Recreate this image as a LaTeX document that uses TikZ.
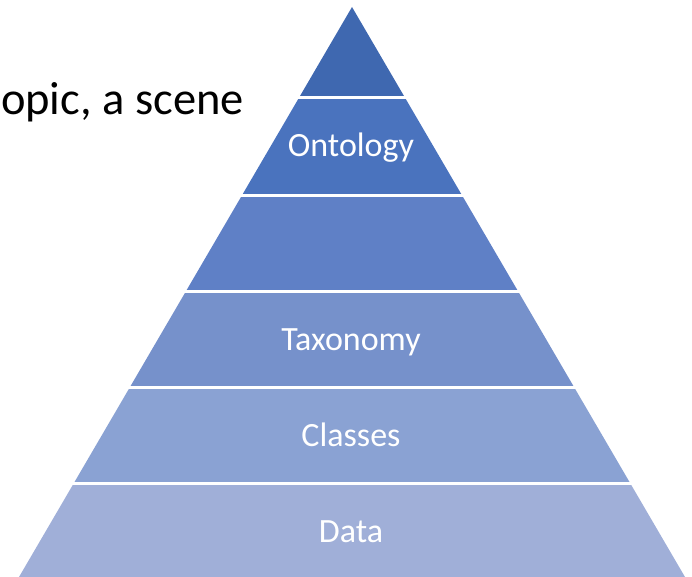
\documentclass[tikz,border=0pt]{standalone}
\usepackage{fontspec}
\setmainfont{Carlito}
\definecolor{layerA}{RGB}{63,104,176}
\definecolor{layerB}{RGB}{74,115,190}
\definecolor{layerC}{RGB}{95,128,198}
\definecolor{layerD}{RGB}{118,145,203}
\definecolor{layerE}{RGB}{138,162,211}
\definecolor{layerF}{RGB}{160,175,216}
\begin{document}
\begin{tikzpicture}[x=1pt,y=-1pt,
  tierlabel/.style={text=white,font=\fontsize{34}{36}\selectfont,inner sep=0pt,anchor=base},
  headline/.style={text=black,font=\fontsize{46.5}{50}\selectfont,inner sep=0pt,anchor=base east}]
  \useasboundingbox (0,0) rectangle (692,577);
  % pyramid outline, cut into horizontal bands with thin white gaps
  \begin{scope}
    \clip (352,7) -- (685,577) -- (19,577) -- cycle;
    \fill[layerA] (0,0)     rectangle (692,96.5);
    \fill[layerB] (0,99.5)  rectangle (692,194.5);
    \fill[layerC] (0,197.5) rectangle (692,290);
    \fill[layerD] (0,293)   rectangle (692,386);
    \fill[layerE] (0,389)   rectangle (692,482);
    \fill[layerF] (0,485)   rectangle (692,580);
  \end{scope}
  % band labels
  \node[tierlabel] (ontology) at (351,157) {Ontology};
  \node[tierlabel] (taxonomy) at (351,350) {Taxonomy};
  \node[tierlabel] (classes)  at (351,446) {Classes};
  \node[tierlabel] (data)     at (351,542) {Data};
  % heading text running in from the left edge
  \node[headline] (heading) at (244,115) {opic, a scene};
\end{tikzpicture}
\end{document}
